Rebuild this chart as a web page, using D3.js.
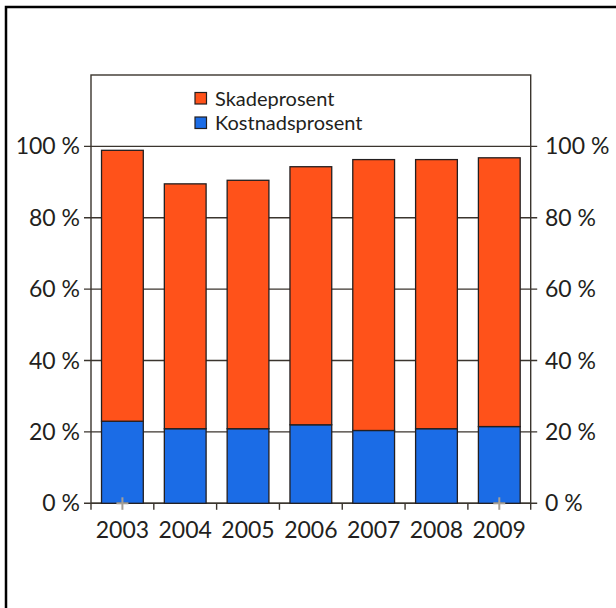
<!DOCTYPE html>
<html>
<head>
<meta charset="utf-8">
<script src="https://cdn.jsdelivr.net/npm/d3@7"></script>
<style>
  html, body { margin: 0; padding: 0; background: #fff; }
  svg { display: block; }
  text { font-family: Lato, "Open Sans", sans-serif; fill: #231f20; }
</style>
</head>
<body>
<svg id="chart" width="616" height="608"></svg>
<script>
// Combined ratio per year, split into cost ratio and claims ratio (percent)
const years = ["2003", "2004", "2005", "2006", "2007", "2008", "2009"];
const kostnadsprosent = [23.0, 20.9, 20.9, 22.0, 20.4, 20.9, 21.5];
const skadeprosent = [75.9, 68.6, 69.6, 72.3, 75.9, 75.4, 75.3];
const seriesNames = ["Kostnadsprosent", "Skadeprosent"];
const seriesColors = ["#1b6ce6", "#ff521a"];
const yTicks = [0, 20, 40, 60, 80, 100];

const svg = d3.select("#chart");
const ink = "#231f20";
const gridInk = "#3b352e";

// outer frame, running off the right and bottom edges
svg.append("rect")
  .attr("x", 6).attr("y", 7)
  .attr("width", 700).attr("height", 700)
  .attr("fill", "none").attr("stroke", "#000").attr("stroke-width", 2.5);

const plot = { left: 91, right: 530.7, top: 75, bottom: 503.3 };

const x = d3.scaleBand().domain(years).range([plot.left, plot.right]).padding(0);
const y = d3.scaleLinear().domain([0, 120]).range([plot.bottom, plot.top]);
const barW = x.bandwidth() * 0.665;

// horizontal gridlines, extended as ticks past both sides of the frame
svg.append("g").selectAll("line").data(yTicks).join("line")
  .attr("x1", plot.left - 7).attr("x2", plot.right + 6.5)
  .attr("y1", d => y(d)).attr("y2", d => y(d))
  .attr("stroke", gridInk).attr("stroke-width", 1.4);

// plot frame
svg.append("rect")
  .attr("x", plot.left).attr("y", plot.top)
  .attr("width", plot.right - plot.left).attr("height", plot.bottom - plot.top)
  .attr("fill", "none").attr("stroke", gridInk).attr("stroke-width", 1.4);

// stacked bars
const rows = years.map((yr, i) => ({ year: yr, Kostnadsprosent: kostnadsprosent[i], Skadeprosent: skadeprosent[i] }));
const stacked = d3.stack().keys(seriesNames)(rows);

svg.append("g").selectAll("g").data(stacked).join("g")
  .attr("fill", (d, i) => seriesColors[i])
  .selectAll("rect").data(d => d).join("rect")
  .attr("x", d => x(d.data.year) + (x.bandwidth() - barW) / 2)
  .attr("width", barW)
  .attr("y", d => y(d[1]))
  .attr("height", d => y(d[0]) - y(d[1]))
  .attr("stroke", ink).attr("stroke-width", 1.3);

// category boundary ticks below the axis
const bounds = years.map(d => x(d)).concat([plot.right]);
svg.append("g").selectAll("line").data(bounds).join("line")
  .attr("x1", d => d).attr("x2", d => d)
  .attr("y1", plot.bottom).attr("y2", plot.bottom + 6.5)
  .attr("stroke", gridInk).attr("stroke-width", 1.4);

// small grey cross markers on the baseline at the first and last year
const crossYears = [years[0], years[years.length - 1]];
const crosses = svg.append("g").attr("stroke", "#a59f96").attr("stroke-width", 2);
crossYears.forEach(yr => {
  const cx = x(yr) + x.bandwidth() / 2;
  crosses.append("line").attr("x1", cx - 6).attr("x2", cx + 6)
    .attr("y1", plot.bottom).attr("y2", plot.bottom);
  crosses.append("line").attr("x1", cx).attr("x2", cx)
    .attr("y1", plot.bottom - 6).attr("y2", plot.bottom + 6.5);
});

// year labels
svg.append("g").selectAll("text").data(years).join("text")
  .attr("x", d => x(d) + x.bandwidth() / 2)
  .attr("y", 538)
  .attr("text-anchor", "middle")
  .attr("font-size", 23)
  .text(d => d);

// y tick labels on both sides
const fmt = d => d + " %";
svg.append("g").selectAll("text").data(yTicks).join("text")
  .attr("x", 80).attr("y", d => y(d) + 8)
  .attr("text-anchor", "end").attr("font-size", 23)
  .text(fmt);
svg.append("g").selectAll("text").data(yTicks).join("text")
  .attr("x", 545).attr("y", d => y(d) + 8)
  .attr("text-anchor", "start").attr("font-size", 23)
  .text(fmt);

// legend (claims ratio first, then cost ratio)
const legendItems = [
  { name: seriesNames[1], color: seriesColors[1] },
  { name: seriesNames[0], color: seriesColors[0] }
];
const legend = svg.append("g").selectAll("g").data(legendItems).join("g")
  .attr("transform", (d, i) => `translate(195, ${92.5 + i * 24.5})`);
legend.append("rect")
  .attr("width", 11.5).attr("height", 11.5)
  .attr("fill", d => d.color).attr("stroke", ink).attr("stroke-width", 1.2);
legend.append("text")
  .attr("x", 20).attr("y", 13)
  .attr("font-size", 20)
  .text(d => d.name);
</script>
</body>
</html>
